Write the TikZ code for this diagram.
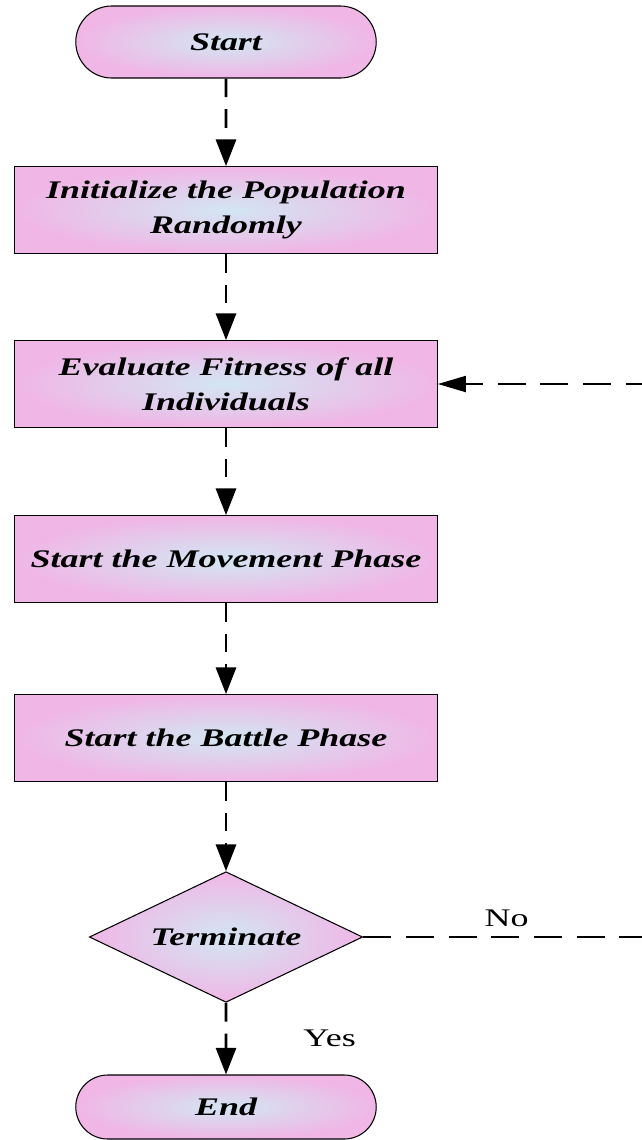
\documentclass[tikz,border=0pt]{standalone}
\usepackage{fontspec}
\setmainfont{Liberation Serif}[FakeStretch=1.42]
\usetikzlibrary{shapes.geometric,shapes.misc,arrows.meta}
\definecolor{pinkedge}{RGB}{240,182,230}
\definecolor{bluecore}{RGB}{210,230,242}
\tikzset{
  shadefill/.style={draw=black, line width=0.8pt, inner color=bluecore, outer color=pinkedge},
  procbox/.style={shadefill, rectangle, minimum width=317pt, minimum height=65pt, align=center,
     font=\fontsize{19}{26}\selectfont\bfseries\itshape, inner sep=2pt},
  termbox/.style={shadefill, rounded rectangle, minimum width=232pt, minimum height=54pt,
     font=\fontsize{19}{26}\selectfont\bfseries\itshape},
  decbox/.style={shadefill, diamond, minimum width=205pt, minimum height=98pt, inner sep=0pt,
     font=\fontsize{19}{26}\selectfont\bfseries\itshape},
  vline/.style={line width=2.2pt, dash pattern=on 14pt off 9pt},
  hline/.style={line width=1.5pt, dash pattern=on 21pt off 11pt},
  varr/.style={vline, -{Triangle[width=15pt,length=20pt]}},
  harr/.style={hline, -{Triangle[width=12pt,length=21pt]}},
  lbl/.style={font=\fontsize{19}{22}\selectfont, inner sep=0pt}
}
\begin{document}
\begin{tikzpicture}[x=0.75pt,y=-0.75pt]
\useasboundingbox[fill=white] (0,0) rectangle (642,1140);
\node[termbox] (start) at (226,42) {Start};
\node[procbox] (init) at (226,210) {Initialize the Population\\Randomly};
\node[procbox] (eval) at (226,384) {Evaluate Fitness of all\\Individuals};
\node[procbox] (move) at (226,559) {Start the Movement Phase};
\node[procbox] (battle) at (226,738) {Start the Battle Phase};
\node[decbox] (term) at (226,937) {\makebox[0pt]{Terminate}};
\node[termbox, minimum height=48pt] (end) at (226,1107) {End};
\coordinate (c1) at (680,937);
\coordinate (c2) at (680,384);
\draw[varr] (start) -- (init);
\draw[varr] (init) -- (eval);
\draw[varr] (eval) -- (move);
\draw[varr] (move) -- (battle);
\draw[varr] (battle) -- (term);
\draw[varr] (term) -- node[lbl, pos=0.5, anchor=west, xshift=57pt] (yes) {Yes} (end);
\draw[harr] (term.east) -- node[lbl, pos=0.453, anchor=base, yshift=8pt] (no) {No} (c1) -- (c2) -- (eval.east);
\end{tikzpicture}
\end{document}
